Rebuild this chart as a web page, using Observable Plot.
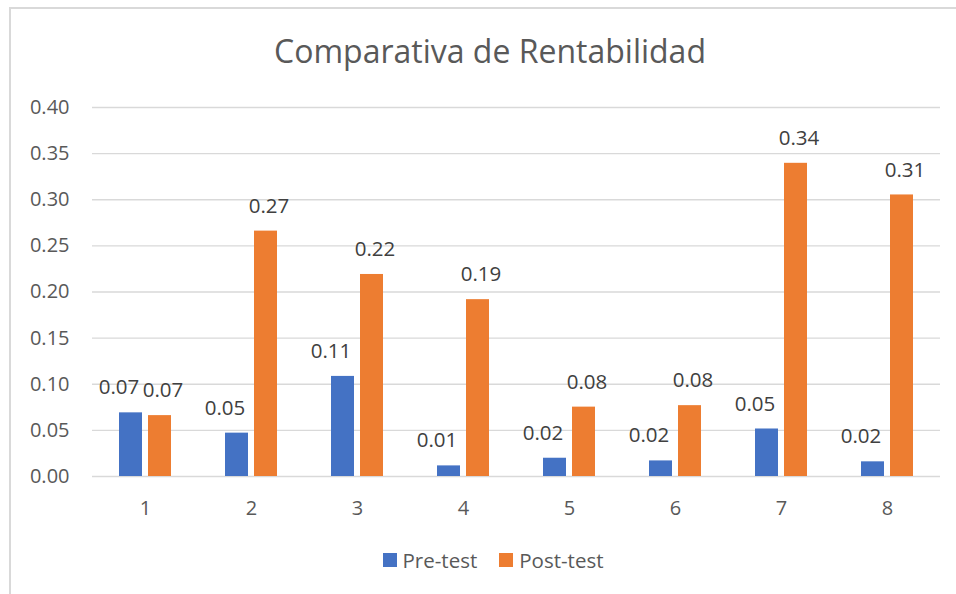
<!DOCTYPE html>
<html>
<head>
<meta charset="utf-8">
<script src="https://cdn.jsdelivr.net/npm/d3@7"></script>
<script src="https://cdn.jsdelivr.net/npm/@observablehq/plot@0.6"></script>
<style>
  html, body { margin: 0; padding: 0; background: #fff; overflow: hidden; }
  #wrap { position: relative; width: 956px; height: 594px; font-family: "Open Sans", sans-serif; }
  #frame { position: absolute; left: 9px; top: 7px; width: 1200px; height: 1200px;
           border-left: 2px solid #d9d9d9; border-top: 2px solid #d9d9d9; box-sizing: border-box; }
  #title { position: absolute; left: 0; top: 0; width: 980px; height: 90px; text-align: center;
           font-size: 32px; color: #595959; line-height: 32px; padding-top: 35px; box-sizing: border-box; }
  #chart { position: absolute; left: 0; top: 90px; }
  #legend { position: absolute; left: 0; top: 526px; width: 986px; height: 68px; display: flex;
            justify-content: center; align-items: center; gap: 22px; font-size: 20.5px; color: #595959; }
  .item { display: flex; align-items: center; gap: 6px; }
  .sw { width: 14px; height: 14px; display: inline-block; }
</style>
</head>
<body>
<div id="wrap">
  <div id="frame"></div>
  <div id="title">Comparativa de Rentabilidad</div>
  <div id="chart"></div>
  <div id="legend"></div>
</div>
<script>
const categories = ["1", "2", "3", "4", "5", "6", "7", "8"];
const seriesNames = ["Pre-test", "Post-test"];
const preTest  = [0.069, 0.047, 0.1085, 0.0115, 0.0198, 0.0169, 0.0515, 0.0159];
const postTest = [0.066, 0.266, 0.219, 0.1917, 0.0752, 0.0768, 0.3395, 0.3052];
const seriesColors = ["#4472C4", "#ED7D31"];
const yTicks = [0, 0.05, 0.10, 0.15, 0.20, 0.25, 0.30, 0.35, 0.40];

const data = categories.flatMap((c, i) => [
  {cat: c, series: seriesNames[0], value: preTest[i]},
  {cat: c, series: seriesNames[1], value: postTest[i]}
]);

const chart = Plot.plot({
  width: 956,
  height: 436,
  marginLeft: 92,
  marginRight: 16,
  marginTop: 17,
  marginBottom: 50,
  style: {fontFamily: "Open Sans", fontSize: "20px", color: "#595959", background: "transparent"},
  fx: {domain: categories, padding: 0, label: null, axis: "bottom", tickSize: 0, tickPadding: 24},
  x: {domain: seriesNames, paddingInner: 0.22, paddingOuter: 0.88, axis: null},
  y: {domain: [0, 0.4], ticks: yTicks, tickFormat: d3.format(".2f"), label: null, tickSize: 0, tickPadding: 23},
  color: {domain: seriesNames, range: seriesColors},
  marks: [
    Plot.ruleY(yTicks, {stroke: "#d9d9d9", strokeWidth: 1.3}),
    Plot.barY(data, {fx: "cat", x: "series", y: "value", fill: "series"}),
    Plot.text(data.filter(d => d.series === seriesNames[0]), {
      fx: "cat", x: "series", y: "value", text: d => d.value.toFixed(2),
      dy: -25, dx: -12, fill: "#404040", fontSize: 20.5
    }),
    Plot.text(data.filter(d => d.series === seriesNames[1]), {
      fx: "cat", x: "series", y: "value", text: d => d.value.toFixed(2),
      dy: -25, dx: 3, fill: "#404040", fontSize: 20.5
    })
  ]
});
document.getElementById("chart").appendChild(chart);

const legend = document.getElementById("legend");
seriesNames.forEach((s, i) => {
  const item = document.createElement("div");
  item.className = "item";
  const sw = document.createElement("span");
  sw.className = "sw";
  sw.style.background = seriesColors[i];
  const t = document.createElement("span");
  t.textContent = s;
  item.appendChild(sw);
  item.appendChild(t);
  legend.appendChild(item);
});
</script>
</body>
</html>
